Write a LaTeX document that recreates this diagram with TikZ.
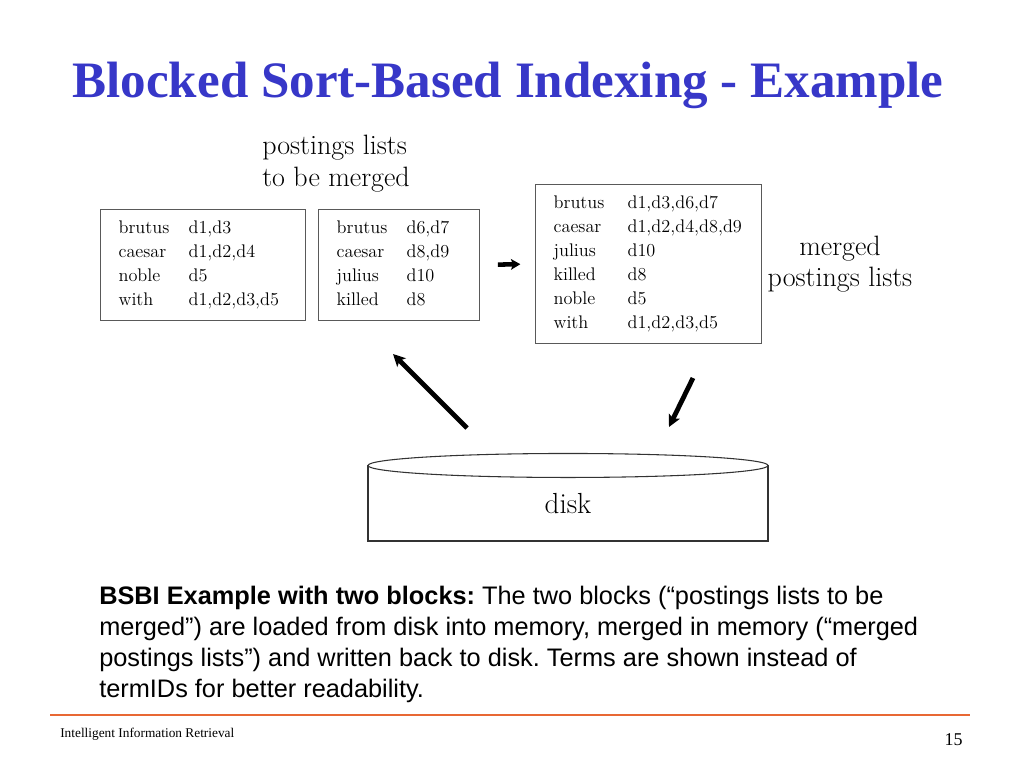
\documentclass[tikz,border=0pt]{standalone}
\usepackage{fontspec}
\newfontfamily\slidefont{Liberation Serif}
\newfontfamily\notefont{Liberation Sans}
\usepackage{tikz}
\usetikzlibrary{matrix, arrows.meta, positioning}
\definecolor{titleblue}{RGB}{55,55,200}
\definecolor{ruleorange}{RGB}{232,104,52}
\tikzstyle{arrow} = [line width=3.6pt,-{Stealth[length=9pt,width=9pt,inset=2pt]}]
\tikzstyle{block} = [matrix of nodes, draw=black!65, line width=0.9pt, inner xsep=13.5pt, inner ysep=8pt, row sep=5pt, nodes={anchor=base west, inner sep=0pt, text height=10pt, text depth=3pt, font=\fontsize{13.7}{16}\selectfont}]
\tikzstyle{label} = [inner sep=0pt, font=\fontsize{21}{24}\selectfont]

\begin{document}
\begin{tikzpicture}[x=0.75pt, y=-0.75pt]
        \fill[white] (0,0) rectangle (1024,768);
        \useasboundingbox (0,0) rectangle (1024,768);
        % Title
        \node (title) [anchor=base, inner sep=0pt, text=titleblue, font=\slidefont\bfseries\fontsize{38.3}{44}\selectfont] at (508,97) {Blocked Sort-Based Indexing - Example};
        % Blocks to be merged
        \node (mergein) [label, anchor=west, align=left] at (262,164) {postings lists\\to be merged};
        \matrix (blockA) [block, anchor=north west, column 1/.style={nodes={text width=52.5pt}}, column 2/.style={nodes={text width=74pt}}] at (100,209) {
            brutus & d1,d3 \\
            caesar & d1,d2,d4 \\
            noble & d5 \\
            with & d1,d2,d3,d5 \\
        };
        \matrix (blockB) [block, anchor=north west, column 1/.style={nodes={text width=52.5pt}}, column 2/.style={nodes={text width=41pt}}] at (318,209) {
            brutus & d6,d7 \\
            caesar & d8,d9 \\
            julius & d10 \\
            killed & d8 \\
        };
        % Merged block
        \matrix (blockM) [block, anchor=north west, column 1/.style={nodes={text width=55.5pt}}, column 2/.style={nodes={text width=87pt}}] at (535,184) {
            brutus & d1,d3,d6,d7 \\
            caesar & d1,d2,d4,d8,d9 \\
            julius & d10 \\
            killed & d8 \\
            noble & d5 \\
            with & d1,d2,d3,d5 \\
        };
        \node (mergeout) [label, align=center, font=\fontsize{21}{23.25}\selectfont] at (840,264) {merged\\postings lists};
        \draw [arrow, line width=3.4pt, -{Stealth[length=7pt,width=8pt,inset=1.5pt]}, shorten <=13.5pt, shorten >=11pt] (blockB.east) -- (blockM.west);
        % Disk
        \node (disk) [draw=black!80, line width=0.8pt, minimum width=300pt, minimum height=56.25pt, font=\fontsize{21.8}{24}\selectfont] at (568,503.5) {disk};
        \draw [draw=black!80, line width=0.8pt, fill=white] (disk.north) ellipse [x radius=150pt, y radius=9pt];
        \coordinate (loadfrom) at (467,428);
        \coordinate (loadto) at (393,354);
        \coordinate (storefrom) at (693,378);
        \coordinate (storeto) at (669,427);
        \draw [arrow] (loadfrom) -- (loadto);
        \draw [arrow] (storefrom) -- (storeto);
        % Caption
        \node (caption) [anchor=north west, align=left, inner sep=0pt, font=\notefont\frenchspacing\fontsize{19}{23.25}\selectfont] at (99,586) {\textbf{BSBI Example with two blocks:} The two blocks (“postings lists to be\\merged”) are loaded from disk into memory, merged in memory (“merged\\postings lists”) and written back to disk. Terms are shown instead of\\termIDs for better readability.};
        % Footer
        \draw [ruleorange, line width=1.5pt] (50,715) -- (970,715);
        \node (course) [anchor=base west, inner sep=0pt, font=\slidefont\fontsize{10}{12}\selectfont] at (60,737) {Intelligent Information Retrieval};
        \node (pageno) [anchor=base east, inner sep=0pt, font=\slidefont\fontsize{13.5}{16}\selectfont] at (963,745) {15};
\end{tikzpicture}
\end{document}
